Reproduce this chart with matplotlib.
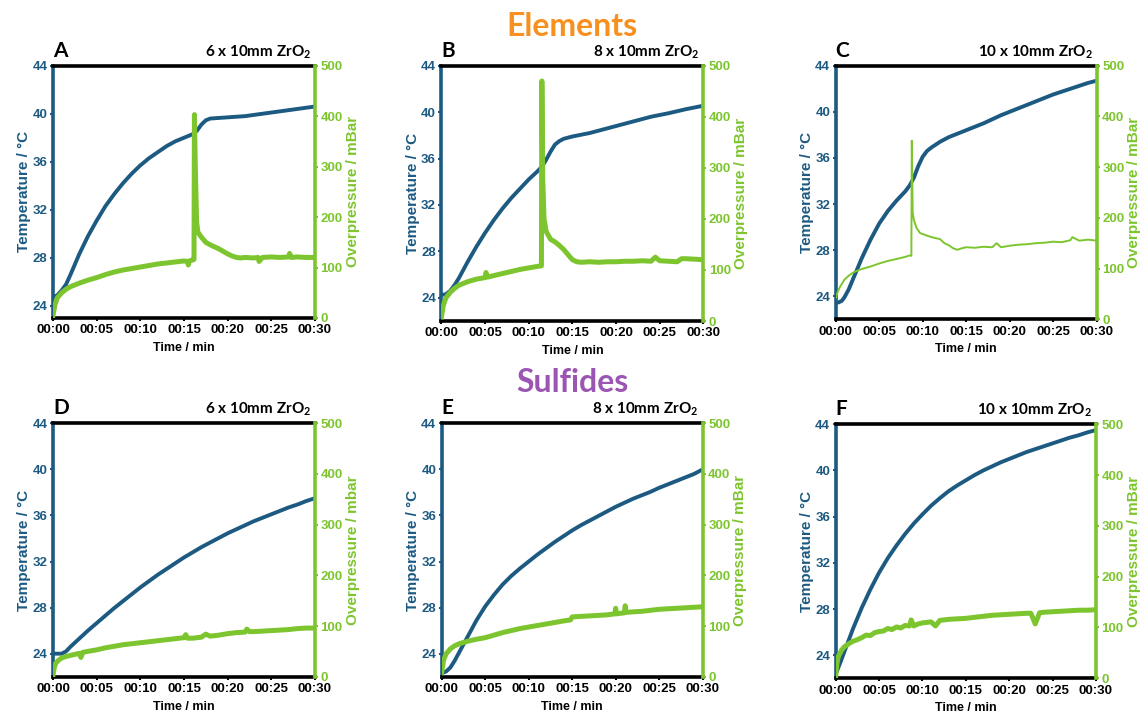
import matplotlib
matplotlib.use("Agg")
import matplotlib.pyplot as plt

plt.rcParams["font.family"] = ["Liberation Sans", "DejaVu Sans"]
plt.rcParams["mathtext.fontset"] = "custom"
plt.rcParams["mathtext.rm"] = "Lato:bold"
plt.rcParams["mathtext.it"] = "Lato:bold"
plt.rcParams["mathtext.bf"] = "Lato:bold"

BLUE = "#1D5A82"
GREEN = "#7DC52E"
ORANGE = "#F7901E"
PURPLE = "#9B55B2"

# ---- Panel A: elements, 6 balls ----
A_T_MIN = [0, 0.5, 1, 1.5, 2, 3, 4, 5, 6, 7, 8, 9, 10, 11, 12, 13, 14, 15, 16,
           16.5, 17, 17.5, 18, 19, 20, 22, 25, 28, 30]
A_TEMP = [24.7, 24.9, 25.3, 25.8, 26.6, 28.3, 29.8, 31.1, 32.3, 33.3, 34.2, 35.0,
          35.7, 36.3, 36.8, 37.3, 37.7, 38.0, 38.3, 38.6, 39.1, 39.45, 39.6, 39.65,
          39.7, 39.8, 40.1, 40.4, 40.6]
A_P_MIN = [0, 0.25, 0.5, 1, 1.5, 2, 3, 4, 5, 6, 7, 8, 9, 10, 11, 12, 13, 14, 15,
           15.4, 15.5, 15.6, 16, 16.15, 16.2, 16.3, 16.45, 16.6, 17, 17.5, 18, 18.5,
           19, 19.5, 20, 20.5, 21, 21.5, 22, 23, 23.5, 23.6, 24, 25, 26, 27, 27.1,
           27.3, 28, 29, 30]
A_PRES = [5, 28, 40, 50, 57, 62, 69, 75, 80, 86, 91, 95, 98, 101, 104, 107, 109,
          111, 113, 112, 105, 113, 115, 116, 403, 300, 190, 170, 160, 150, 145, 141,
          137, 132, 127, 123, 120, 119, 120, 119, 120, 112, 120, 121, 120, 121, 128,
          120, 121, 120, 120]

# ---- Panel B: elements, 8 balls ----
B_T_MIN = [0, 0.5, 1, 1.5, 2, 3, 4, 5, 6, 7, 8, 9, 10, 11, 11.5, 12, 12.5, 13,
           13.5, 14, 15, 16, 17, 18, 20, 22, 24, 26, 28, 30]
B_TEMP = [24.25, 24.3, 24.6, 25.1, 25.7, 27.1, 28.4, 29.6, 30.7, 31.7, 32.6, 33.4,
          34.2, 34.9, 35.3, 35.9, 36.6, 37.2, 37.5, 37.7, 37.9, 38.05, 38.2, 38.4,
          38.8, 39.2, 39.6, 39.9, 40.25, 40.55]
B_P_MIN = [0, 0.2, 0.5, 1, 1.5, 2, 3, 4, 5, 5.1, 5.3, 6, 7, 8, 9, 10, 11, 11.45,
           11.5, 11.6, 11.75, 12, 12.5, 13, 13.5, 14, 14.5, 15, 15.5, 16, 17, 18, 19,
           20, 21, 22, 23, 24, 24.5, 25, 26, 27, 27.5, 28, 29, 30]
B_PRES = [8, 30, 45, 56, 64, 70, 77, 82, 85, 95, 86, 89, 93, 97, 101, 104, 107, 108,
          470, 280, 200, 175, 160, 155, 148, 140, 130, 120, 116, 115, 116, 115, 116,
          116, 117, 117, 118, 117, 125, 118, 117, 116, 122, 122, 121, 120]

# ---- Panel C: elements, 10 balls ----
C_T_MIN = [0, 0.3, 0.7, 1, 1.5, 2, 3, 4, 5, 6, 7, 8, 8.5, 9, 9.5, 10, 10.5, 11, 12,
           13, 14, 15, 17, 19, 21, 23, 25, 27, 29, 30]
C_TEMP = [23.5, 23.45, 23.6, 23.9, 24.6, 25.5, 27.3, 28.9, 30.3, 31.4, 32.3, 33.1,
          33.6, 34.3, 35.3, 36.1, 36.6, 36.9, 37.4, 37.8, 38.1, 38.4, 39.0, 39.7,
          40.3, 40.9, 41.5, 42.0, 42.5, 42.7]
C_P_MIN = [0, 0.25, 0.5, 1, 1.5, 2, 2.5, 3, 4, 5, 6, 7, 8, 8.5, 8.7, 8.75, 8.85, 9,
           9.3, 9.7, 10, 10.5, 11, 11.5, 12, 12.5, 13, 13.5, 14, 14.5, 15, 16, 17, 18,
           18.5, 19, 20, 21, 22, 23, 24, 25, 26, 27, 27.2, 28, 29, 30]
C_PRES = [42, 55, 64, 78, 86, 92, 96, 99, 104, 110, 115, 119, 123, 126, 125, 352,
          210, 195, 180, 170, 168, 165, 162, 160, 158, 150, 146, 140, 137, 140, 142,
          141, 143, 142, 150, 142, 145, 147, 148, 150, 151, 153, 152, 156, 162, 155,
          157, 155]

# ---- Panel D: sulfides, 6 balls ----
D_T_MIN = [0, 0.5, 1, 1.5, 2, 3, 4, 5, 6, 7, 8, 9, 10, 11, 12, 13, 14, 15, 16, 17,
           18, 19, 20, 21, 22, 23, 24, 25, 26, 27, 28, 29, 30]
D_TEMP = [24.0, 24.0, 24.0, 24.2, 24.6, 25.3, 26.0, 26.65, 27.3, 27.95, 28.55,
          29.15, 29.75, 30.3, 30.85, 31.35, 31.85, 32.35, 32.8, 33.25, 33.65, 34.05,
          34.45, 34.8, 35.15, 35.5, 35.8, 36.1, 36.4, 36.7, 36.95, 37.25, 37.5]
D_P_MIN = [0, 0.15, 0.3, 0.6, 1, 1.5, 2, 3, 3.2, 3.4, 4, 5, 6, 7, 8, 9, 10, 11, 12,
           13, 14, 15, 15.2, 15.4, 16, 17, 17.5, 18, 19, 20, 21, 22, 22.2, 22.5, 23,
           24, 25, 26, 27, 28, 29, 30]
D_PRES = [3, 18, 26, 32, 37, 40, 42, 46, 38, 48, 50, 53, 57, 60, 63, 65, 67, 69, 71,
          73, 75, 77, 83, 76, 76, 78, 84, 80, 82, 85, 87, 88, 94, 89, 89, 90, 91, 92,
          93, 95, 96, 96]

# ---- Panel E: sulfides, 8 balls ----
E_T_MIN = [0, 0.5, 1, 1.5, 2, 2.5, 3, 4, 5, 6, 7, 8, 9, 10, 11, 12, 13, 14, 15, 16,
           17, 18, 19, 20, 21, 22, 23, 24, 25, 26, 27, 28, 29, 30]
E_TEMP = [22.3, 22.45, 22.8, 23.4, 24.1, 24.8, 25.5, 26.9, 28.1, 29.1, 30.0, 30.75,
          31.4, 32.0, 32.6, 33.15, 33.7, 34.2, 34.7, 35.15, 35.55, 35.95, 36.35,
          36.75, 37.1, 37.45, 37.75, 38.05, 38.4, 38.7, 39.0, 39.3, 39.6, 40.0]
E_P_MIN = [0, 0.2, 0.5, 1, 1.5, 2, 3, 4, 5, 6, 7, 8, 9, 10, 11, 12, 13, 14, 14.8,
           15, 16, 17, 18, 19, 19.9, 20, 20.1, 20.5, 21, 21.1, 21.2, 22, 23, 24, 25,
           26, 27, 28, 29, 30]
E_PRES = [8, 32, 45, 55, 61, 65, 70, 74, 77, 82, 87, 91, 95, 98, 101, 104, 107, 110,
          112, 118, 119, 120, 121, 122, 124, 135, 124, 125, 126, 140, 127, 128, 129,
          131, 133, 134, 135, 136, 137, 138]

# ---- Panel F: sulfides, 10 balls ----
F_T_MIN = [0, 0.5, 1, 1.5, 2, 3, 4, 5, 6, 7, 8, 9, 10, 11, 12, 13, 14, 15, 16, 17,
           18, 19, 20, 21, 22, 23, 24, 25, 26, 27, 28, 29, 30]
F_TEMP = [22.35, 23.3, 24.3, 25.3, 26.3, 28.1, 29.7, 31.15, 32.4, 33.5, 34.5, 35.4,
          36.2, 36.95, 37.6, 38.2, 38.7, 39.15, 39.6, 40.0, 40.35, 40.7, 41.0, 41.3,
          41.6, 41.85, 42.1, 42.35, 42.6, 42.85, 43.05, 43.3, 43.5]
F_P_MIN = [0, 0.15, 0.3, 0.7, 1, 1.5, 2, 2.5, 3, 3.5, 4, 4.5, 5, 5.5, 6, 6.5, 7, 7.5,
           8, 8.5, 8.7, 9, 9.5, 10, 11, 11.5, 12, 13, 14, 15, 16, 17, 18, 19, 20, 21,
           22, 22.5, 23, 23.5, 24, 25, 26, 27, 28, 29, 30]
F_PRES = [5, 30, 43, 56, 62, 68, 73, 76, 80, 85, 84, 90, 92, 93, 98, 96, 101, 99,
          104, 103, 115, 103, 107, 109, 111, 103, 114, 116, 117, 118, 120, 122, 124,
          125, 126, 127, 128, 128, 107, 129, 130, 131, 132, 133, 134, 134, 135]

LETTERS = ["A", "B", "C", "D", "E", "F"]
BALLS = ["6", "8", "10", "6", "8", "10"]
TEMP_BOTTOM = [23.0, 22.0, 22.0, 22.0, 22.0, 22.0]
PRES_UNITS = ["mBar", "mBar", "mBar", "mbar", "mBar", "mBar"]
TEMP_TICKS = [24, 28, 32, 36, 40, 44]
PRES_TICKS = [0, 100, 200, 300, 400, 500]
TIME_TICKS = [0, 5, 10, 15, 20, 25, 30]
TIME_LABELS = ["00:00", "00:05", "00:10", "00:15", "00:20", "00:25", "00:30"]

SERIES = [
    (A_T_MIN, A_TEMP, A_P_MIN, A_PRES),
    (B_T_MIN, B_TEMP, B_P_MIN, B_PRES),
    (C_T_MIN, C_TEMP, C_P_MIN, C_PRES),
    (D_T_MIN, D_TEMP, D_P_MIN, D_PRES),
    (E_T_MIN, E_TEMP, E_P_MIN, E_PRES),
    (F_T_MIN, F_TEMP, F_P_MIN, F_PRES),
]

# axes rectangles in figure fractions (left, bottom, width, height)
RECTS = [
    (0.0463, 0.5565, 0.2290, 0.3519),
    (0.3859, 0.5523, 0.2289, 0.3561),
    (0.7305, 0.5547, 0.2281, 0.3537),
    (0.0463, 0.0562, 0.2290, 0.3534),
    (0.3861, 0.0562, 0.2281, 0.3534),
    (0.7305, 0.0540, 0.2275, 0.3542),
]

TICK_FS = 9.5
LABEL_FS = 11

fig = plt.figure(figsize=(11.44, 7.17), dpi=100)

for i, (tm, temp, pm, pres) in enumerate(SERIES):
    ax = fig.add_axes(RECTS[i])
    ax2 = ax.twinx()

    ax.plot(tm, temp, color=BLUE, lw=2.8, solid_capstyle="butt",
            solid_joinstyle="round", zorder=3)
    green_lw = 1.4 if LETTERS[i] == "C" else 3.6
    ax2.plot(pm, pres, color=GREEN, lw=green_lw, solid_joinstyle="round", zorder=3)

    ax.set_xlim(0, 30)
    ax.set_ylim(TEMP_BOTTOM[i], 44)
    ax2.set_ylim(0, 500)

    ax.set_xticks(TIME_TICKS)
    ax.set_xticklabels(TIME_LABELS, fontsize=TICK_FS, fontweight="bold",
                       color="black")
    ax.set_yticks(TEMP_TICKS)
    ax.set_yticklabels([str(v) for v in TEMP_TICKS], fontsize=TICK_FS,
                       fontweight="bold", color=BLUE)
    ax2.set_yticks(PRES_TICKS)
    ax2.set_yticklabels([str(v) for v in PRES_TICKS], fontsize=TICK_FS,
                        fontweight="bold", color=GREEN)

    ax.tick_params(axis="x", length=2, width=1.5, pad=2.5, color="black")
    ax.tick_params(axis="y", length=2.5, width=1.5, pad=1.5, color=BLUE)
    ax2.tick_params(axis="y", length=2.5, width=1.5, pad=1.5, color=GREEN)

    ax.spines["left"].set_color(BLUE)
    ax.spines["left"].set_linewidth(2.6)
    ax.spines["top"].set_color("black")
    ax.spines["top"].set_linewidth(2.6)
    ax.spines["bottom"].set_color("black")
    ax.spines["bottom"].set_linewidth(2.6)
    ax.spines["right"].set_visible(False)
    for s in ("left", "top", "bottom"):
        ax2.spines[s].set_visible(False)
    ax2.spines["right"].set_color(GREEN)
    ax2.spines["right"].set_linewidth(2.6)

    ax.set_xlabel("Time / min", fontsize=9, fontweight="bold", labelpad=4)
    ax.set_ylabel("Temperature / °C", fontsize=LABEL_FS, fontweight="bold",
                  color=BLUE, labelpad=1)
    ax2.set_ylabel("Overpressure / " + PRES_UNITS[i], fontsize=LABEL_FS,
                   fontweight="bold", color=GREEN, labelpad=2)

    ax.text(0.0, 1.02, LETTERS[i], transform=ax.transAxes, ha="left", va="bottom",
            fontsize=15, fontweight="bold", family="Lato")
    ax.text(0.985, 1.02, BALLS[i] + r" x 10mm ZrO$_2$", transform=ax.transAxes,
            ha="right", va="bottom", fontsize=11, fontweight="bold", family="Lato")

fig.text(0.5, 0.963, "Elements", ha="center", va="center", color=ORANGE,
         fontsize=23, fontweight="bold", family="Lato")
fig.text(0.5, 0.466, "Sulfides", ha="center", va="center", color=PURPLE,
         fontsize=23, fontweight="bold", family="Lato")

fig.savefig("out.png", dpi=100)
